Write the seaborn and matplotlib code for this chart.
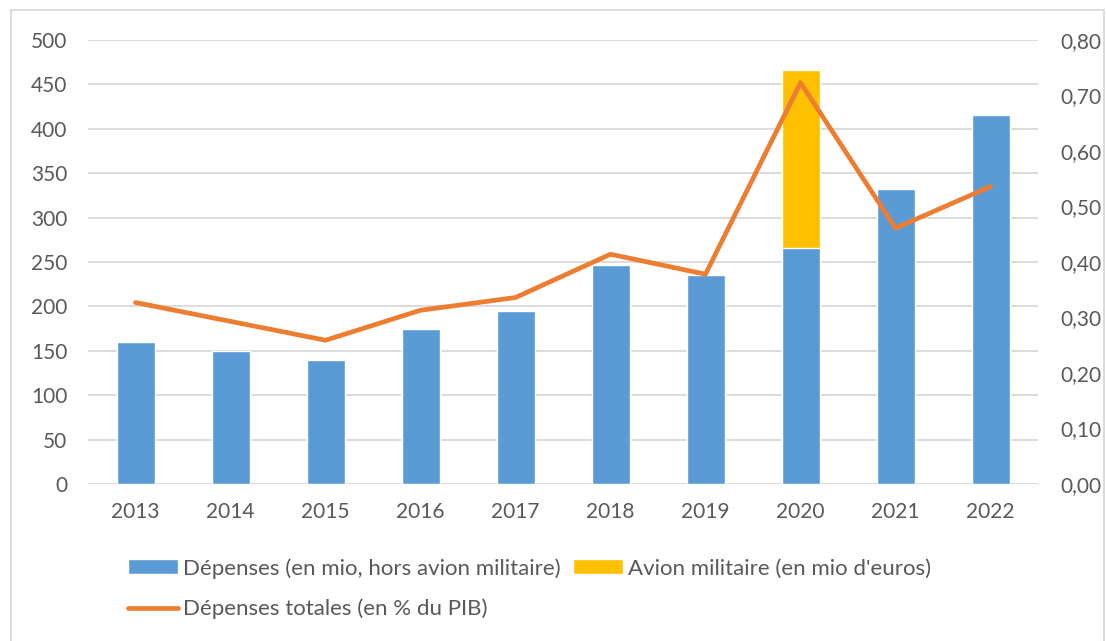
import numpy as np
import pandas as pd
import seaborn as sns
from matplotlib import pyplot as plt
from matplotlib.patches import Patch, Rectangle
from matplotlib.lines import Line2D

# values
years = ['2013', '2014', '2015', '2016', '2017', '2018', '2019', '2020', '2021', '2022']
depenses = [160, 150, 140, 175, 195, 247, 235, 266, 332, 416]
avion = [0, 0, 0, 0, 0, 0, 0, 200, 0, 0]
pct_pib = [0.327, 0.293, 0.259, 0.313, 0.336, 0.414, 0.378, 0.723, 0.461, 0.536]

blue = '#5B9BD5'
yellow = '#FFC000'
orange = '#ED7D31'
grey_txt = '#595959'
fs = 15

sns.set_theme(style='white')
plt.rcParams['font.family'] = ['Lato', 'DejaVu Sans']

df = pd.DataFrame({'annee': years, 'depenses': depenses, 'avion': avion})
df['total'] = df['depenses'] + df['avion']

W, H = 1106, 641
fig = plt.figure(figsize=(W / 100, H / 100), dpi=100)
ax = fig.add_axes([88 / W, 1 - 484 / H, (1038 - 88) / W, (484 - 40) / H])

# stacked bars: total in yellow first, blue part on top
sns.barplot(data=df, x='annee', y='total', color=yellow, width=0.4, saturation=1, ax=ax, zorder=2)
sns.barplot(data=df, x='annee', y='depenses', color=blue, width=0.4, saturation=1, ax=ax, zorder=3)

ax.set_ylim(0, 500)
ax.set_xlim(-0.5, len(years) - 0.5)
ax.set_yticks(range(0, 501, 50))
ax.yaxis.grid(True, color='#D9D9D9', linewidth=1.3, zorder=0)
ax.set_axisbelow(True)
for s in ax.spines.values():
    s.set_visible(False)
ax.set_xlabel('')
ax.set_ylabel('')
ax.tick_params(axis='both', length=0, labelsize=fs, labelcolor=grey_txt)
ax.tick_params(axis='y', pad=15)
ax.tick_params(axis='x', pad=13)

ax2 = ax.twinx()
sns.lineplot(x=np.arange(len(years)), y=pct_pib, color=orange, linewidth=3.4, ax=ax2, zorder=4)
ax2.set_ylim(0, 0.8)
ax2.set_yticks(np.arange(0, 0.81, 0.1))
ax2.set_yticklabels([f'{v:.2f}'.replace('.', ',') for v in np.arange(0, 0.81, 0.1)])
for s in ax2.spines.values():
    s.set_visible(False)
ax2.tick_params(axis='y', length=0, labelsize=fs, labelcolor=grey_txt, pad=16)
ax2.set_ylabel('')

# legend under the chart
handles = [
    Patch(facecolor=blue, label='Dépenses (en mio, hors avion militaire)'),
    Line2D([0], [0], color=orange, linewidth=3.4, label='Dépenses totales (en % du PIB)'),
    Patch(facecolor=yellow, label="Avion militaire (en mio d'euros)"),
]
fig.legend(handles=handles, ncol=2, loc='upper left', bbox_to_anchor=(128 / W, 1 - 558 / H),
           frameon=False, fontsize=16, labelcolor=grey_txt, handlelength=2.25,
           handleheight=0.65, handletextpad=0.22, columnspacing=0.55, labelspacing=0.9,
           borderaxespad=0, borderpad=0)

# outer chart frame
fig.patches.append(Rectangle((11 / W, -0.01), (1104 - 11) / W, 1 - 10 / H + 0.01,
                             transform=fig.transFigure, fill=False,
                             edgecolor='#D9D9D9', linewidth=1.3))

fig.savefig('out.png', dpi=100)
